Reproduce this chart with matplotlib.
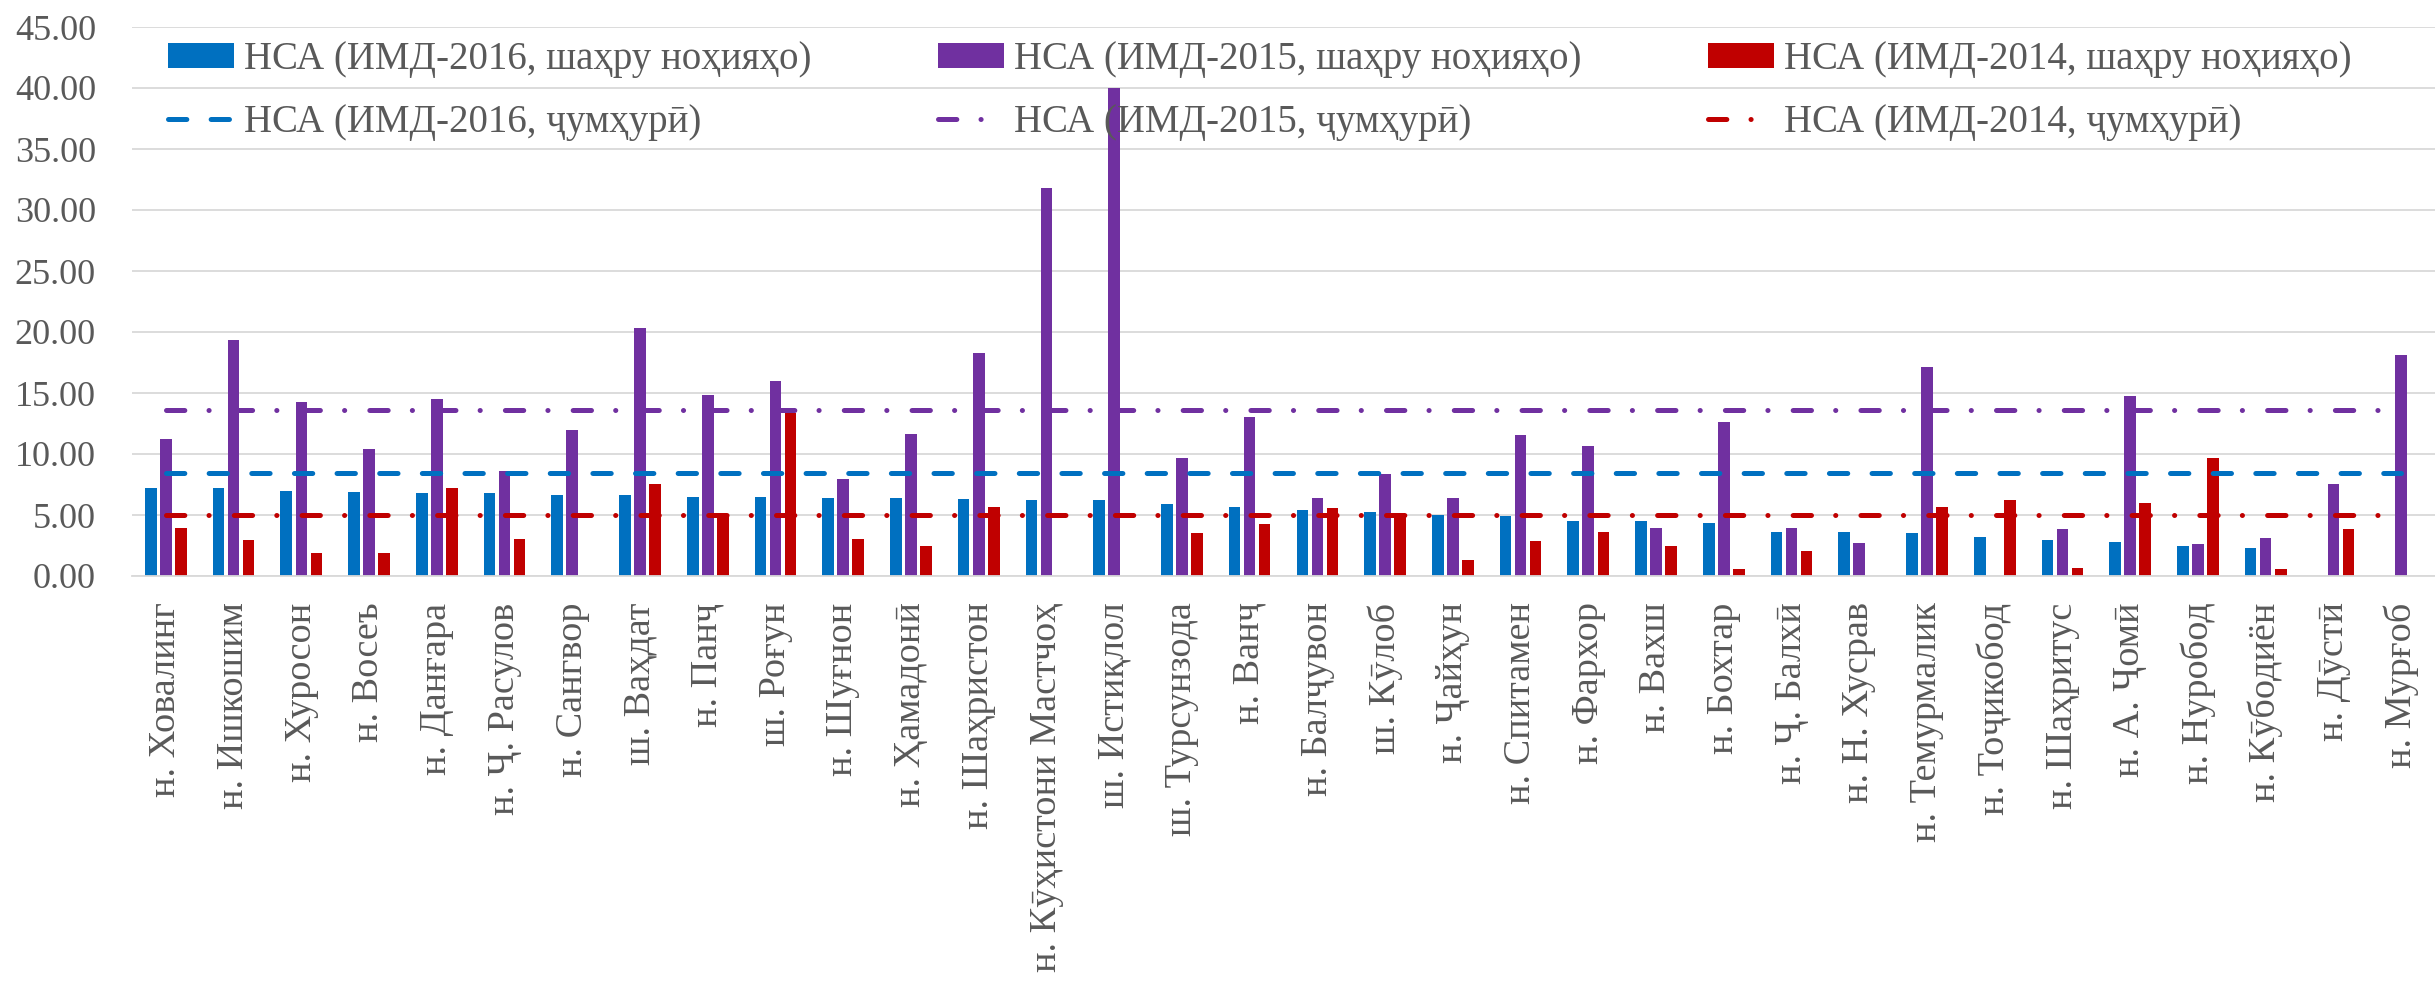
import matplotlib
matplotlib.use("Agg")
import matplotlib.pyplot as plt
import numpy as np
from matplotlib.lines import Line2D
from matplotlib.patches import Patch

nan = float("nan")

districts = [
    "н. Ховалинг", "н. Ишкошим", "н. Хуросон", "н. Восеъ", "н. Данғара",
    "н. Ҷ. Расулов", "н. Сангвор", "ш. Ваҳдат", "н. Панҷ", "ш. Роғун",
    "н. Шуғнон", "н. Ҳамадонӣ", "н. Шаҳристон", "н. Кӯҳистони Мастчоҳ",
    "ш. Истиқлол", "ш. Турсунзода", "н. Ванҷ", "н. Балҷувон", "ш. Кӯлоб",
    "н. Ҷайҳун", "н. Спитамен", "н. Фархор", "н. Вахш", "н. Бохтар",
    "н. Ҷ. Балхӣ", "н. Н. Хусрав", "н. Темурмалик", "н. Тоҷикобод",
    "н. Шаҳритус", "н. А. Ҷомӣ", "н. Нуробод", "н. Кӯбодиён", "н. Дӯстӣ",
    "н. Мурғоб",
]
imd2016 = [7.22, 7.22, 6.97, 6.90, 6.78, 6.78, 6.65, 6.62, 6.50, 6.46,
           6.40, 6.40, 6.34, 6.24, 6.24, 5.93, 5.68, 5.37, 5.24, 5.02,
           4.93, 4.52, 4.52, 4.33, 3.64, 3.64, 3.51, 3.20, 2.98, 2.76,
           2.48, 2.32, nan, nan]
imd2015 = [11.26, 19.36, 14.25, 10.45, 14.50, 8.60, 11.95, 20.33, 14.87, 16.00,
           7.97, 11.64, 18.29, 31.82, 39.97, 9.70, 13.05, 6.43, 8.35, 6.43,
           11.58, 10.67, 3.95, 12.65, 3.92, 2.67, 17.13, nan, 3.86, 14.72,
           2.60, 3.14, 7.56, 18.14]
imd2014 = [3.95, 2.95, 1.91, 1.88, 7.19, 3.01, nan, 7.53, 4.83, 13.34,
           3.01, 2.48, 5.65, nan, nan, 3.55, 4.24, 5.55, 5.08, 1.32,
           2.86, 3.58, 2.45, 0.56, 2.04, nan, 5.65, 6.21, 0.66, 5.96,
           9.66, 0.60, 3.89, nan]
national_2016 = 8.47
national_2015 = 13.59
national_2014 = 5.02

years = ["2016", "2015", "2014"]
colors = ["#0070C0", "#7030A0", "#C00000"]
TEXT = "#595959"
GRID = "#D9D9D9"
FONT = ["Liberation Serif", "DejaVu Serif"]

plt.rcParams["font.family"] = FONT
plt.rcParams["lines.scale_dashes"] = False

W, H = 2435, 989
fig = plt.figure(figsize=(W / 100, H / 100), dpi=100)
left, right, top, bottom = 132, 2435, 27, 576
ax = fig.add_axes([left / W, 1 - bottom / H, (right - left) / W, (bottom - top) / H])

x = np.arange(len(districts))
bw = 0.172
off = 0.222
series = [imd2016, imd2015, imd2014]
for i, (vals, c) in enumerate(zip(series, colors)):
    ax.bar(x + (i - 1) * off, vals, width=bw, color=c, zorder=2)

nationals = [national_2016, national_2015, national_2014]
dash_styles = [(13.2, 17.5), (13.2, 17.4, 0.1, 18.1), (13.2, 17.4, 0.1, 18.1)]
for val, c, d in zip(nationals, colors, dash_styles):
    ax.plot(x, [val] * len(x), color=c, lw=3.6, dashes=d,
            dash_capstyle="round", zorder=3)

ax.set_xlim(-0.5, len(districts) - 0.5)
ax.set_ylim(0, 45)
ax.set_yticks(np.arange(0, 46, 5))
ax.set_yticklabels([f"{v:.2f}" for v in np.arange(0, 46, 5)])
ax.set_xticks(x)
ax.set_xticklabels(districts, rotation=90)
ax.tick_params(axis="y", length=0, pad=26, labelsize=26, labelcolor=TEXT)
ax.tick_params(axis="x", length=0, pad=19, labelsize=27.5, labelcolor=TEXT)
ax.yaxis.grid(True, color=GRID, lw=1.3)
ax.set_axisbelow(True)
for s in ["top", "right", "left"]:
    ax.spines[s].set_visible(False)
ax.spines["bottom"].set_color(GRID)
ax.spines["bottom"].set_linewidth(1.3)

# one small legend per year so the columns sit where the reference has them
col_x = [168, 938, 1708]
for i, yr in enumerate(years):
    handles = [Patch(facecolor=colors[i]),
               Line2D([], [], color=colors[i], lw=3.6, dashes=dash_styles[i],
                      dash_capstyle="round")]
    labels = [f"НСА (ИМД-{yr}, шаҳру ноҳияҳо)", f"НСА (ИМД-{yr}, ҷумҳурӣ)"]
    fig.legend(handles, labels, loc="upper left",
               bbox_to_anchor=(col_x[i] / W, 1 - 41 / H),
               frameon=False, fontsize=28, borderpad=0, borderaxespad=0,
               handlelength=1.7, handleheight=0.6, handletextpad=0.25,
               labelspacing=0.67, labelcolor=TEXT)

fig.savefig("out.png", dpi=100)
